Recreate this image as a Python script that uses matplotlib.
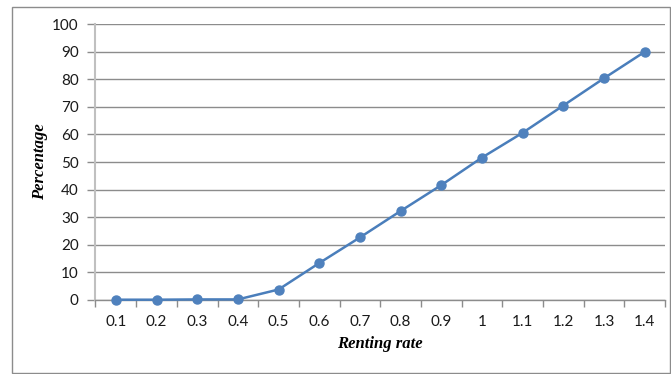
import matplotlib
matplotlib.use("Agg")
import matplotlib.pyplot as plt
from matplotlib.patches import Rectangle
from matplotlib.ticker import FixedLocator

categories = ["0.1", "0.2", "0.3", "0.4", "0.5", "0.6", "0.7", "0.8", "0.9", "1", "1.1", "1.2", "1.3", "1.4"]
percentage = [0.0, 0.0, 0.1, 0.1, 3.7, 13.3, 22.6, 32.2, 41.6, 51.6, 60.6, 70.5, 80.4, 90.0]
y_ticks = [0, 10, 20, 30, 40, 50, 60, 70, 80, 90, 100]

W, H = 671, 374
fig = plt.figure(figsize=(W / 100, H / 100), dpi=100)
ax = fig.add_axes([95.5 / W, 1 - 299.7 / H, (665 - 95.5) / W, (299.7 - 24.3) / H])

x = list(range(len(categories)))
ax.plot(x, percentage, color="#4a7ebb", lw=1.8, marker="o", ms=6.5,
        markerfacecolor="#4f81bd", markeredgecolor="#4f81bd", zorder=3, clip_on=False)

ax.set_xlim(-0.5, len(categories) - 0.5)
ax.set_ylim(0, 100)
ax.set_yticks(y_ticks)
ax.yaxis.grid(True, color="#8c8c8c", lw=1.0)
ax.set_axisbelow(True)

ax.set_xticks(x)
ax.set_xticklabels(categories)
ax.xaxis.set_minor_locator(FixedLocator([i - 0.5 for i in range(len(categories) + 1)]))
ax.tick_params(axis="x", which="major", length=0, pad=11)
ax.tick_params(axis="x", which="minor", length=5, color="#8c8c8c", width=1)
ax.tick_params(axis="y", length=6, color="#8c8c8c", width=1, pad=6)

for lab in ax.get_xticklabels() + ax.get_yticklabels():
    lab.set_fontfamily("Lato")
    lab.set_fontsize(11)
    lab.set_color("#1a1a1a")

for s in ["top", "right"]:
    ax.spines[s].set_visible(False)
ax.spines["left"].set_color("#c0c0c0")
ax.spines["left"].set_linewidth(1.5)
ax.spines["bottom"].set_color("#8c8c8c")
ax.spines["bottom"].set_linewidth(1.0)

ax.set_xlabel("Renting rate", fontfamily="Liberation Serif", fontweight="bold",
              fontstyle="italic", fontsize=12, labelpad=5)
ax.set_ylabel("Percentage", fontfamily="Liberation Serif", fontweight="bold",
              fontstyle="italic", fontsize=12, labelpad=3)

fig.patches.append(Rectangle((11.5 / W, 1 - 372.5 / H), (670 - 11.5) / W, (372.5 - 7) / H,
                             transform=fig.transFigure, fill=False,
                             edgecolor="#8c8c8c", lw=1.0))

fig.savefig("out.png", dpi=100)
